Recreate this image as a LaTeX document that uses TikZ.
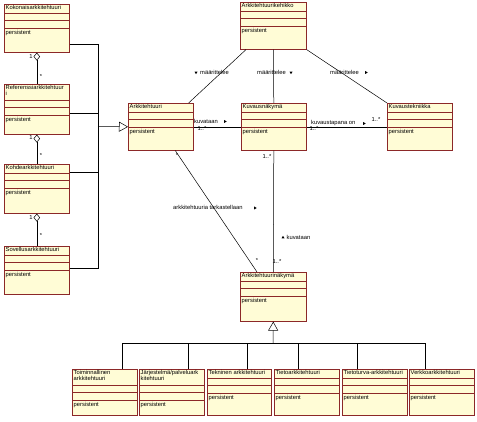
\documentclass[tikz,border=0pt]{standalone}
\usepackage{fontspec}
\setmainfont{Liberation Sans}
\usetikzlibrary{arrows.meta,calc,shapes.geometric}
\definecolor{luokkaReuna}{RGB}{140,40,40}
\definecolor{luokkaTausta}{RGB}{255,252,214}
\tikzset{
  luokka/.style={draw=luokkaReuna, fill=luokkaTausta, line width=0.6pt, anchor=north west, inner sep=0pt},
  nimi/.style={anchor=north west, align=left, inner sep=0.5pt, font=\fontsize{5.8}{6.4}\selectfont},
  osa/.style={draw=luokkaReuna, line width=0.5pt},
  yhteys/.style={line width=0.5pt},
  yleistys/.style={-{Triangle[open,length=9pt,width=10pt]}, line width=0.5pt},
  kooste/.style={{Diamond[open,length=8pt,width=6.5pt]}-, line width=0.5pt},
  teksti/.style={inner sep=0pt, font=\fontsize{5.8}{6.4}\selectfont},
  selite/.style={teksti, anchor=west},
  suunta/.style={isosceles triangle, fill=black, inner sep=0pt, minimum size=2.6pt, isosceles triangle apex angle=60}
}
% #1 nimi, #2 x, #3 y, #4 leveys, #5 korkeus, #6 otsikko, #7 lisarivi
\newcommand{\luokka}[7]{%
  \node[luokka, minimum width=#4, minimum height=#5] (#1) at (#2,#3) {};
  \node[nimi] (#1-nimi) at ($(#1.north west)+(1,0.5)$) {#6};
  \draw[osa] ($(#1.north west)+(0,9+#7)$) -- ($(#1.north east)+(0,9+#7)$);
  \draw[osa] ($(#1.north west)+(0,16.5+#7)$) -- ($(#1.north east)+(0,16.5+#7)$);
  \draw[osa] ($(#1.north west)+(0,24+#7)$) -- ($(#1.north east)+(0,24+#7)$);
  \node[nimi] (#1-pers) at ($(#1.north west)+(1,25.5+#7)$) {persistent};
}

\begin{document}
\begin{tikzpicture}[x=1pt,y=-1pt]
  \useasboundingbox (0,0) rectangle (477,422);

  % vasen sarake
  \luokka{kok}{4}{4}{65}{48}{Kokonaisarkkitehtuuri}{0}
  \luokka{ref}{4}{84}{65}{50}{Referenssiarkkitehtuur\\i}{7}
  \luokka{koh}{4}{164}{65}{49}{Kohdearkkitehtuuri}{0}
  \luokka{sov}{4}{246}{65}{48}{Sovellusarkkitehtuuri}{0}

  % keskiosa
  \luokka{keh}{240}{2}{66}{47}{Arkkitehtuurikehikko}{0}
  \luokka{ark}{128}{103}{65}{47}{Arkkitehtuuri}{0}
  \luokka{kuv}{241}{103}{65}{47}{Kuvausnäkymä}{0}
  \luokka{tek}{387}{103}{65}{47}{Kuvaustekniikka}{0}
  \luokka{nak}{240}{272}{66}{49}{Arkkitehtuurinäkymä}{0}

  % alarivi
  \luokka{toi}{72}{369}{65}{46}{Toiminnallinen\\arkkitehtuuri}{7}
  \luokka{jar}{139}{369}{65}{46}{Järjestelmä/palveluark\\kitehtuuri}{7}
  \luokka{tkn}{207}{369}{64}{46}{Tekninen arkkitehtuuri}{0}
  \luokka{tie}{274}{369}{65}{46}{Tietoarkkitehtuuri}{0}
  \luokka{tts}{342}{369}{65}{46}{Tietoturva-arkkitehtuuri}{0}
  \luokka{ver}{409}{369}{65}{46}{Verkkoarkkitehtuuri}{0}

  % kooste
  \draw[kooste] (kok.south) -- (ref.north);
  \draw[kooste] (ref.south) -- (koh.north);
  \draw[kooste] (koh.south) -- (sov.north);
  \node[teksti] (m1) at (31,57) {1};
  \node[teksti] (m2) at (41,77) {*};
  \node[teksti] (m3) at (31,138) {1};
  \node[teksti] (m4) at (41,156) {*};
  \node[teksti] (m5) at (31,218) {1};
  \node[teksti] (m6) at (41,236) {*};

  % yleistys vasemmalta
  \coordinate (vayla) at (98,126.5);
  \draw[yhteys] ($(kok.north east)+(0,40)$) -| (vayla);
  \draw[yhteys] ($(ref.north east)+(0,29)$) -| (vayla);
  \draw[yhteys] ($(koh.north east)+(0,8)$) -| (vayla);
  \draw[yhteys] ($(sov.north east)+(0,22)$) -| (vayla);
  \draw[yleistys] (vayla) -- (ark.west);

  % yleistys alas
  \coordinate (jako) at (273,343);
  \draw[yleistys] (jako) -- (nak.south);
  \draw[yhteys] ($(toi.north west)+(50,0)$) |- (jako);
  \draw[yhteys] ($(jar.north west)+(49,0)$) |- (jako);
  \draw[yhteys] ($(tkn.north west)+(40,0)$) |- (jako);
  \draw[yhteys] ($(tie.north west)+(24,0)$) |- (jako);
  \draw[yhteys] ($(tts.north west)+(15,0)$) |- (jako);
  \draw[yhteys] ($(ver.north west)+(16,0)$) |- (jako);

  % assosiaatiot
  \draw[yhteys] ($(keh.south west)+(6,0)$) -- ($(ark.north east)+(-5,0)$);
  \draw[yhteys] (keh.south) -- (kuv.north);
  \draw[yhteys] (keh.south east) -- (tek.north west);
  \draw[yhteys] (ark.east) -- (kuv.west);
  \draw[yhteys] (kuv.east) -- (tek.west);
  \draw[yhteys] ($(ark.south)+(14.5,0)$) -- ($(nak.north west)+(17,0)$);
  \draw[yhteys] (kuv.south) -- (nak.north);

  \node[selite] (l1) at (200,72) {määrittelee};
  \node[suunta, shape border rotate=225] (s1) at (196,72.5) {};
  \node[selite] (l2) at (257,72) {määrittelee};
  \node[suunta, shape border rotate=270] (s2) at (291,72.5) {};
  \node[selite] (l3) at (330,72) {määrittelee};
  \node[suunta, shape border rotate=315] (s3) at (366,72.5) {};

  \node[selite] (l4) at (194,121) {kuvataan};
  \node[suunta] (s4) at (225,121.5) {};
  \node[teksti] (k1) at (202,129) {1..*};
  \node[teksti] (k2) at (267,157) {1..*};

  \node[selite] (l5) at (311,123) {kuvaustapana on};
  \node[suunta] (s5) at (364,123.5) {};
  \node[teksti] (k3) at (314,129) {1..*};
  \node[teksti] (k4) at (376,120) {1..*};

  \node[selite] (l6) at (173,207) {arkkitehtuuria tarkastellaan};
  \node[suunta, shape border rotate=315] (s6) at (255,208) {};
  \node[teksti] (k5) at (177,156) {*};
  \node[teksti] (k6) at (257,261) {*};

  \node[selite] (l7) at (286.5,237) {kuvataan};
  \node[suunta, shape border rotate=90] (s7) at (283,237.5) {};
  \node[teksti] (k7) at (277,262) {1..*};
\end{tikzpicture}
\end{document}
